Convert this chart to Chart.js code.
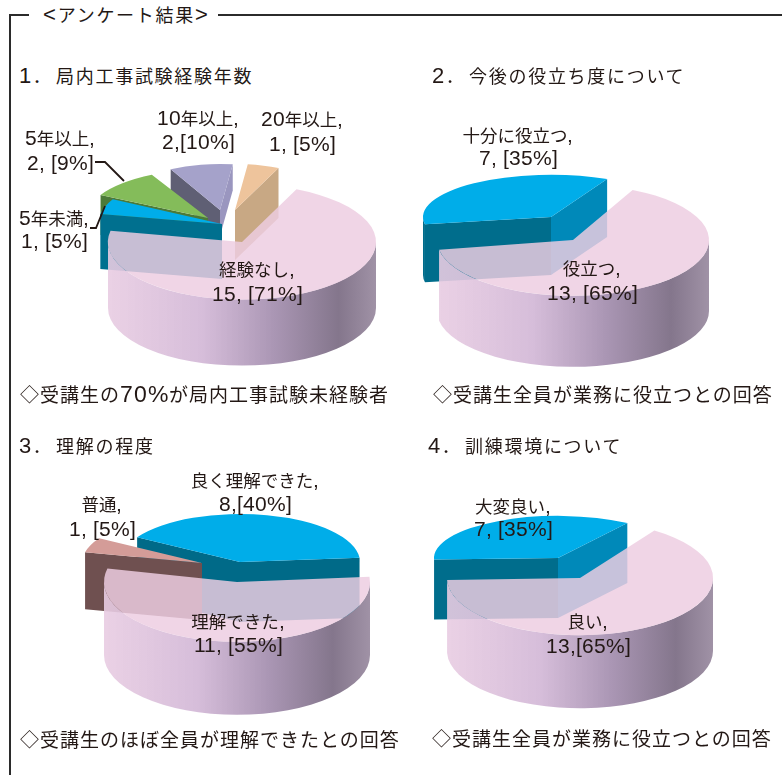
<!DOCTYPE html>
<html lang="ja">
<head>
  <meta charset="UTF-8" />
  <title>アンケート結果</title>
  <script src="https://cdn.jsdelivr.net/npm/chart.js"></script>
  <style>
    /* Latin glyphs run larger than the kana and kanji around them */
    @font-face {
      font-family: "LatinBig";
      src: local("Liberation Sans");
      size-adjust: 120%;
      unicode-range: U+0020-007E;
    }
    html, body { margin: 0; padding: 0; background: #fff; }
    body { position: relative; width: 782px; height: 775px; overflow: hidden; }
    canvas { position: absolute; }
    .rule { position: absolute; background: #2b2b2b; }
    .txt {
      position: absolute;
      white-space: nowrap;
      color: #231815;
      line-height: 1;
      font-family: "LatinBig", "Noto Sans CJK JP", sans-serif;
    }
  </style>
</head>
<body>
  <div class="rule" style="left:9px;top:14px;width:20px;height:1.5px"></div>
  <div class="rule" style="left:218px;top:14px;width:564px;height:1.5px"></div>
  <div class="rule" style="left:9px;top:14px;width:1.5px;height:761px"></div>

  <script>
    // Survey answers
    const categories1 = ['経験なし', '5年未満', '5年以上', '10年以上', '20年以上'];
    const values1 = [15, 1, 2, 2, 1];
    const categories2 = ['役立つ', '十分に役立つ'];
    const values2 = [13, 7];
    const categories3 = ['理解できた', '普通', '良く理解できた'];
    const values3 = [11, 1, 8];
    const categories4 = ['良い', '大変良い'];
    const values4 = [13, 7];

    // Slice value captions as printed: [x, y of name line, y of value line, name, value]
    const captions = [
      [198, 117, 141, '10年以上,', '2,[10%]'],
      [302, 118, 143, '20年以上,', '1, [5%]'],
      [60, 137, 162, '5年以上,', '2, [9%]'],
      [54, 217, 240, '5年未満,', '1, [5%]'],
      [257, 268, 293, '経験なし,', '15, [71%]'],
      [518, 134, 157, '十分に役立つ,', '7, [35%]'],
      [592, 267, 292, '役立つ,', '13, [65%]'],
      [255, 479, 503, '良く理解できた,', '8,[40%]'],
      [102, 503, 528, '普通,', '1, [5%]'],
      [238, 620, 644, '理解できた,', '11, [55%]'],
      [513, 505, 528, '大変良い,', '7, [35%]'],
      [588, 620, 645, '良い,', '13,[65%]']
    ];

    const headings = [
      [19, 75, '1． 局内工事試験経験年数'],
      [432, 75, '2． 今後の役立ち度について'],
      [19, 445, '3． 理解の程度'],
      [428, 445, '4． 訓練環境について']
    ];
    const notes = [
      [20, 393, '◇受講生の70%が局内工事試験未経験者'],
      [433, 393, '◇受講生全員が業務に役立つとの回答'],
      [20, 738, '◇受講生のほぼ全員が理解できたとの回答'],
      [432, 737, '◇受講生全員が業務に役立つとの回答']
    ];

    const PINK = 'rgba(237,205,225,0.84)';
    const BLUE = '#00ade9';

    // Each slice: pull-out from the pie centre, radius, squash, wall depth, colours
    const pinkSlice = (r, q, depth) => ({ dx: 0, dy: 0, r, q, depth, top: PINK, shaded: true });

    const panels = [
      {
        cx: 242, cy: 242, rotation: 24, values: values1, labels: categories1,
        order: [3, 4, 2, 1, 0],
        slices: [
          pinkSlice(134, 0.43, 66),
          { dx: -20, dy: -18, r: 124, q: 0.42, depth: 55, top: BLUE, wallStart: '#00708f', wallEnd: '#00708f', wallArc: '#00708f' },
          { dx: -34, dy: -24, r: 122, q: 0.40, depth: 40, top: '#84bc5a', wallStart: '#4c7a38', wallEnd: '#4c7a38', wallArc: '#4c7a38' },
          { dx: -22, dy: -32, r: 107, q: 0.43, depth: 26, top: '#a5a2ca', wallStart: '#5f5f74', wallEnd: '#9a96bf', wallArc: '#9a96bf' },
          { dx: -7, dy: -32, r: 107, q: 0.43, depth: 50, top: '#eec49c', wallStart: '#c8a884', wallEnd: '#c8a884', wallArc: '#c8a884' }
        ],
        leaders: [
          [[95, 162], [105, 162], [124, 181]],
          [[90, 228], [96, 228], [105, 206]]
        ]
      },
      {
        cx: 573, cy: 240, rotation: 26, values: values2, labels: categories2,
        order: [1, 0],
        slices: [
          pinkSlice(136, 0.41, 71),
          { dx: -22, dy: -23, r: 128, q: 0.33, depth: 58, top: BLUE, wallStart: '#006d8c', wallEnd: '#0089b9', wallArc: '#006d8c' }
        ]
      },
      {
        cx: 237, cy: 582, rotation: 85, values: values3, labels: categories3,
        order: [2, 1, 0],
        slices: [
          pinkSlice(133, 0.45, 73),
          { dx: -35, dy: -19, r: 120, q: 0.40, depth: 57, top: '#d49c98', wallStart: '#6f5050', wallEnd: '#6f5050', wallArc: '#6f5050' },
          { dx: 3, dy: -20, r: 120, q: 0.40, depth: 60, top: BLUE, wallStart: '#006a88', wallEnd: '#006a88', wallArc: '#006a88' }
        ]
      },
      {
        cx: 580, cy: 578, rotation: 34, values: values4, labels: categories4,
        order: [1, 0],
        slices: [
          pinkSlice(133, 0.43, 73),
          { dx: -22, dy: -20, r: 124, q: 0.34, depth: 60, top: BLUE, wallStart: '#006d8c', wallEnd: '#0089b9', wallArc: '#006d8c' }
        ]
      }
    ];

    function addText(str, x, y, size, spacing, centered) {
      const el = document.createElement('span');
      el.className = 'txt';
      el.textContent = str;
      el.style.fontSize = size + 'px';
      el.style.letterSpacing = spacing + 'px';
      el.style.left = x + 'px';
      el.style.top = (y - size / 2 + 1) + 'px';
      if (centered) el.style.transform = 'translateX(-50%)';
      document.body.appendChild(el);
      return el;
    }

    function sideGradient(ctx, x, r) {
      const g = ctx.createLinearGradient(x - r, 0, x + r, 0);
      g.addColorStop(0, 'rgba(232,204,226,0.9)');
      g.addColorStop(0.35, 'rgba(212,186,216,0.95)');
      g.addColorStop(0.62, 'rgba(170,150,180,1)');
      g.addColorStop(0.86, 'rgba(132,118,140,1)');
      g.addColorStop(1, 'rgba(160,146,166,1)');
      return g;
    }

    function radialWall(ctx, x, y, r, q, depth, angle, color) {
      const ex = x + r * Math.cos(angle);
      const ey = y + r * q * Math.sin(angle);
      ctx.fillStyle = color;
      ctx.beginPath();
      ctx.moveTo(x, y);
      ctx.lineTo(ex, ey);
      ctx.lineTo(ex, ey + depth);
      ctx.lineTo(x, y + depth);
      ctx.closePath();
      ctx.fill();
    }

    // Chart.js has no 3D pie, so walls go underneath the arc elements, which are flattened with a transform
    const pie3d = {
      id: 'pie3d',
      beforeDatasetsDraw(chart, args, opts) {
        const ctx = chart.ctx;
        const arcs = chart.getDatasetMeta(0).data;
        opts.order.forEach((i) => {
          const el = arcs[i];
          const s = opts.slices[i];
          const x = el.x + s.dx;
          const y = el.y + s.dy;
          const a0 = el.startAngle;
          const a1 = el.endAngle;

          // only faces turned towards the viewer
          if (!s.shaded) {
            if (-Math.cos(a0) > 0) radialWall(ctx, x, y, s.r, s.q, s.depth, a0, s.wallStart);
            if (Math.cos(a1) > 0) radialWall(ctx, x, y, s.r, s.q, s.depth, a1, s.wallEnd);
          }
          ctx.fillStyle = s.shaded ? sideGradient(ctx, x, s.r) : s.wallArc;
          for (let k = -1; k <= 2; k++) {
            const lo = Math.max(a0, 2 * Math.PI * k);
            const hi = Math.min(a1, 2 * Math.PI * k + Math.PI);
            if (hi <= lo) continue;
            ctx.beginPath();
            ctx.ellipse(x, y, s.r, s.r * s.q, 0, lo, hi);
            ctx.ellipse(x, y + s.depth, s.r, s.r * s.q, 0, hi, lo, true);
            ctx.closePath();
            ctx.fill();
          }

          const k = s.r / el.outerRadius;
          ctx.save();
          ctx.translate(x, y);
          ctx.scale(k, k * s.q);
          ctx.translate(-el.x, -el.y);
          el.draw(ctx);
          ctx.restore();
        });
        return false;
      },
      afterDraw(chart, args, opts) {
        const ctx = chart.ctx;
        ctx.save();
        ctx.strokeStyle = '#231815';
        ctx.lineWidth = 1.8;
        (opts.leaders || []).forEach((pts) => {
          ctx.beginPath();
          pts.forEach((p, i) => {
            const px = p[0] - opts.left;
            const py = p[1] - opts.top;
            if (i === 0) ctx.moveTo(px, py);
            else ctx.lineTo(px, py);
          });
          ctx.stroke();
        });
        ctx.restore();
      }
    };

    const W = 480;
    const H = 300;

    panels.forEach((p) => {
      const canvas = document.createElement('canvas');
      canvas.width = W;
      canvas.height = H;
      canvas.style.left = (p.cx - W / 2) + 'px';
      canvas.style.top = (p.cy - H / 2) + 'px';
      document.body.appendChild(canvas);

      new Chart(canvas.getContext('2d'), {
        type: 'pie',
        data: {
          labels: p.labels,
          datasets: [{
            data: p.values,
            backgroundColor: p.slices.map((s) => s.top),
            borderWidth: 0
          }]
        },
        options: {
          responsive: false,
          animation: false,
          events: [],
          rotation: p.rotation,
          plugins: {
            legend: { display: false },
            tooltip: { enabled: false },
            pie3d: {
              order: p.order,
              slices: p.slices,
              leaders: p.leaders,
              left: p.cx - W / 2,
              top: p.cy - H / 2
            }
          }
        },
        plugins: [pie3d]
      });
    });

    addText('<アンケート結果>', 43, 14, 18, 1.7, false);
    headings.forEach((h) => {
      addText(h[2], h[0], h[1], 18, 1.7, false).style.wordSpacing = '-4px';
    });
    notes.forEach((n) => addText(n[2], n[0], n[1], 19, 1, false));
    captions.forEach((c) => {
      addText(c[3], c[0], c[1], 17.5, 0, true);
      addText(c[4], c[0], c[2], 17.5, 0, true);
    });
  </script>
</body>
</html>
